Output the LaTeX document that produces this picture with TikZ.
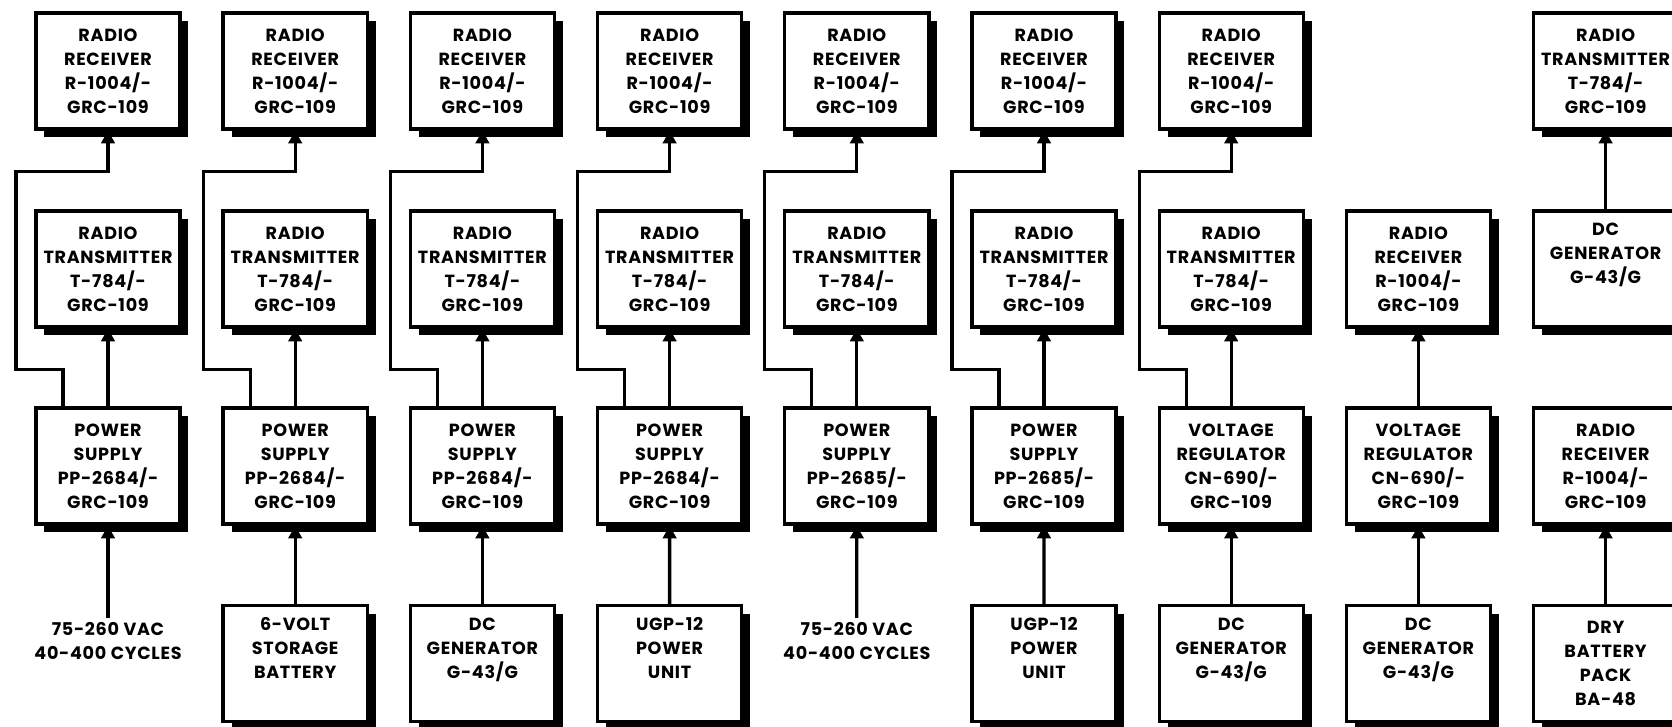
\documentclass[tikz,border=0pt]{standalone}
\usepackage{fontspec}
\setsansfont{Poppins}[LetterSpace=4]
\usetikzlibrary{arrows.meta,shadows,calc}
\newcommand{\boxfont}{\sffamily\bfseries\fontsize{12.5}{17}\selectfont}
\tikzset{
  unitbox/.style={draw, line width=2.4pt, fill=white, minimum width=3.6cm,
    minimum height=2.9cm, align=center, inner sep=0pt, font=\boxfont,
    drop shadow={shadow xshift=6pt, shadow yshift=-6pt, opacity=1, fill=black}},
  linetext/.style={align=center, font=\boxfont, inner sep=3pt},
  feed/.style={line width=2.4pt, -{Triangle[length=9pt,width=9.5pt]}}
}
\begin{document}
\begin{tikzpicture}[x=0.025cm, y=-0.025cm]
  \useasboundingbox (0,0) rectangle (1672,727);

  % Top two rows, columns 1-7
  \foreach \i in {1,...,7} {
    \pgfmathsetmacro\cx{108+187.2*(\i-1)}
    \node[unitbox] (rx\i) at (\cx,71) {RADIO\\RECEIVER\\R-1004/-\\GRC-109};
    \node[unitbox] (tx\i) at (\cx,269) {RADIO\\TRANSMITTER\\T-784/-\\GRC-109};
  }

  % Power units
  \foreach \i/\model in {1/2684,2/2684,3/2684,4/2684,5/2685,6/2685} {
    \pgfmathsetmacro\cx{108+187.2*(\i-1)}
    \node[unitbox] (pwr\i) at (\cx,466) {POWER\\SUPPLY\\PP-\model/-\\GRC-109};
  }
  \node[unitbox] (pwr7) at (1231.2,466) {VOLTAGE\\REGULATOR\\CN-690/-\\GRC-109};

  % Sources
  \node[linetext] (src1) at (108,641) {75-260 VAC\\40-400 CYCLES};
  \node[unitbox] (src2) at (295.2,663.5) {6-VOLT\\STORAGE\\BATTERY\\\strut};
  \node[unitbox] (src3) at (482.4,663.5) {DC\\GENERATOR\\G-43/G\\\strut};
  \node[unitbox] (src4) at (669.6,663.5) {UGP-12\\POWER\\UNIT\\\strut};
  \node[linetext] (src5) at (856.8,641) {75-260 VAC\\40-400 CYCLES};
  \node[unitbox] (src6) at (1044,663.5) {UGP-12\\POWER\\UNIT\\\strut};
  \node[unitbox] (src7) at (1231.2,663.5) {DC\\GENERATOR\\G-43/G\\\strut};

  \foreach \i in {1,...,7} {
    \draw[feed] (src\i.north) -- (pwr\i.south);
    \draw[feed] (pwr\i.north) -- (tx\i.south);
    \draw[feed] ([shift={(-45,0)}]pwr\i.north) -- ++(0,-37) -- ++(-47,0)
      -- ++(0,-198) -| (rx\i.south);
  }

  % Column 8 - receiver only
  \node[unitbox] (rx8) at (1418.4,269) {RADIO\\RECEIVER\\R-1004/-\\GRC-109};
  \node[unitbox] (pwr8) at (1418.4,466) {VOLTAGE\\REGULATOR\\CN-690/-\\GRC-109};
  \node[unitbox] (src8) at (1418.4,663.5) {DC\\GENERATOR\\G-43/G\\\strut};
  \draw[feed] (src8.north) -- (pwr8.south);
  \draw[feed] (pwr8.north) -- (rx8.south);

  % Column 9 - separate supplies
  \node[unitbox] (tx9) at (1605.6,71) {RADIO\\TRANSMITTER\\T-784/-\\GRC-109};
  \node[unitbox] (gen9) at (1605.6,269) {DC\\GENERATOR\\G-43/G\\\strut};
  \node[unitbox] (rx9) at (1605.6,466) {RADIO\\RECEIVER\\R-1004/-\\GRC-109};
  \node[unitbox] (bat9) at (1605.6,663.5) {DRY\\BATTERY\\PACK\\BA-48};
  \draw[feed] (gen9.north) -- (tx9.south);
  \draw[feed] (bat9.north) -- (rx9.south);
\end{tikzpicture}
\end{document}
